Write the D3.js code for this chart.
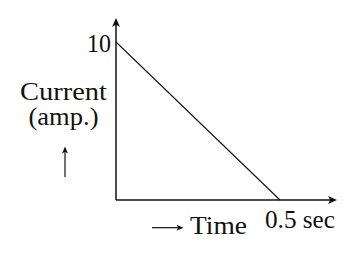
<!DOCTYPE html>
<html>
<head>
<meta charset="utf-8">
<script src="https://cdn.jsdelivr.net/npm/d3@7"></script>
<style>
  html, body { margin: 0; padding: 0; background: #fff; }
  svg { display: block; }
  text { font-family: "Liberation Serif", "Times New Roman", serif; fill: #111; }
</style>
</head>
<body>
<svg id="chart" width="348" height="257"></svg>
<script>
// Data
const times = [0, 0.5];          // seconds
const currents = [10, 0];        // amperes
const yTickLabels = ["10"];
const xTickLabels = ["0.5 sec"];
const yLabelLines = ["Current", "(amp.)"];
const xLabel = "Time";

const svg = d3.select("#chart");
const x = d3.scaleLinear().domain([0, 0.5]).range([116, 280]);
const y = d3.scaleLinear().domain([0, 10]).range([200, 42]);

const ink = "#111";
const fs = 25;

function arrowHead(g, tx, ty, angleDeg, len, half) {
  const notch = len * 0.25;
  g.append("path")
    .attr("d", `M0,0 L${-len},${-half} L${-len + notch},0 L${-len},${half} Z`)
    .attr("transform", `translate(${tx},${ty}) rotate(${angleDeg})`)
    .attr("fill", ink);
}

// Axes
const axes = svg.append("g");
axes.append("line")
  .attr("x1", x(0)).attr("y1", y(0)).attr("x2", x(0)).attr("y2", 22)
  .attr("stroke", ink).attr("stroke-width", 1.5);
arrowHead(axes, x(0), 18, -90, 9, 4);
axes.append("line")
  .attr("x1", x(0)).attr("y1", y(0)).attr("x2", 333).attr("y2", y(0))
  .attr("stroke", ink).attr("stroke-width", 1.5);
arrowHead(axes, 337, y(0), 0, 9, 4);

// Data line
const line = d3.line().x((d, i) => x(times[i])).y(d => y(d));
svg.append("path")
  .datum(currents)
  .attr("d", line)
  .attr("fill", "none")
  .attr("stroke", ink)
  .attr("stroke-width", 1.1);

// Tick labels
svg.append("text")
  .attr("x", x(0) - 5).attr("y", y(10) + 10)
  .attr("text-anchor", "end")
  .attr("font-size", fs)
  .attr("textLength", 24).attr("lengthAdjust", "spacingAndGlyphs")
  .text(yTickLabels[0]);

svg.append("text")
  .attr("x", 300).attr("y", 227.5)
  .attr("text-anchor", "middle")
  .attr("font-size", fs)
  .attr("textLength", 70).attr("lengthAdjust", "spacingAndGlyphs")
  .text(xTickLabels[0]);

// Y label
const yLens = [87, 70];
const yBase = [99.5, 125];
yLabelLines.forEach((t, i) => {
  svg.append("text")
    .attr("x", 63.5).attr("y", yBase[i])
    .attr("text-anchor", "middle")
    .attr("font-size", fs)
    .attr("textLength", yLens[i]).attr("lengthAdjust", "spacingAndGlyphs")
    .text(t);
});
// small up arrow
svg.append("line")
  .attr("x1", 65).attr("y1", 177).attr("x2", 65).attr("y2", 151)
  .attr("stroke", ink).attr("stroke-width", 1.2);
arrowHead(svg, 65, 146.5, -90, 7, 3);

// X label
svg.append("line")
  .attr("x1", 152).attr("y1", 227.7).attr("x2", 179).attr("y2", 227.7)
  .attr("stroke", ink).attr("stroke-width", 1.2);
arrowHead(svg, 183.5, 227.7, 0, 7, 3);
svg.append("text")
  .attr("x", 190).attr("y", 234.3)
  .attr("text-anchor", "start")
  .attr("font-size", fs)
  .attr("textLength", 57).attr("lengthAdjust", "spacingAndGlyphs")
  .text(xLabel);
</script>
</body>
</html>
